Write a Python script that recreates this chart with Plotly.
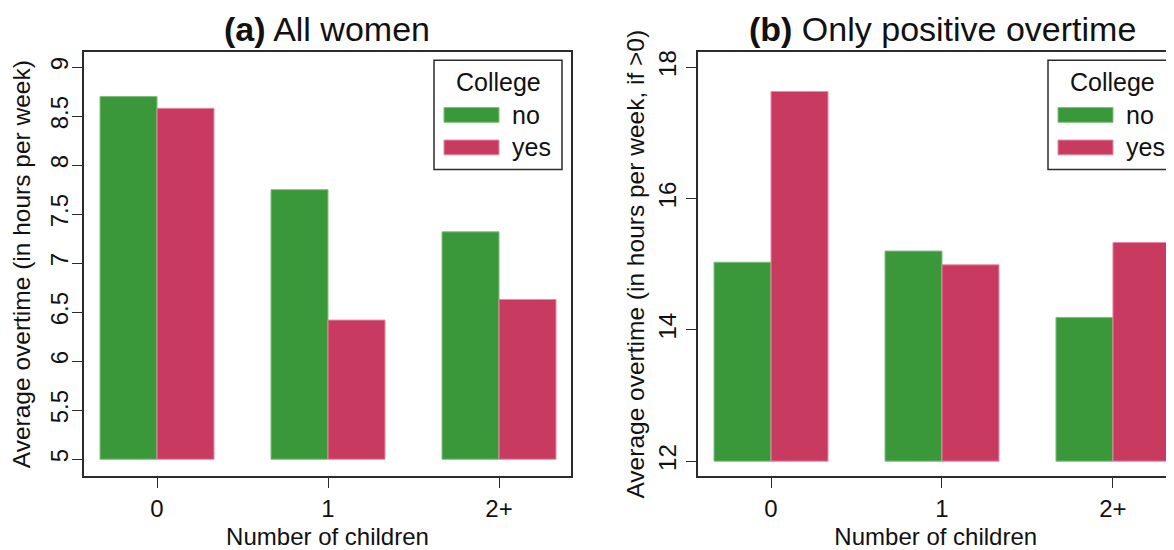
import plotly.graph_objects as go

# the page body has an 8px margin, so the figure is sized to fill the visible window
OFF = 8
W, H = 1174 - OFF, 550 - OFF

# ---- data ----
children = ["0", "1", "2+"]
college_groups = ["no", "yes"]
all_women_no = [8.70, 7.75, 7.32]
all_women_yes = [8.58, 6.42, 6.63]
positive_no = [15.03, 15.20, 14.19]
positive_yes = [17.63, 14.99, 15.33]
left_ticks = [5, 5.5, 6, 6.5, 7, 7.5, 8, 8.5, 9]
left_ticktext = ["5", "5.5", "6", "6.5", "7", "7.5", "8", "8.5", "9"]
right_ticks = [12, 14, 16, 18]
left_base = 5
right_base = 12

GREEN = "#3A983A"
RED = "#C93A61"
GREEN_EDGE = "#7CC07C"
RED_EDGE = "#E58AA2"
FONT = "Liberation Sans, Arial, sans-serif"
LINE = "#2b2b2b"


def px(x):
    return (x - OFF) / W


def py(y):
    return 1 - (y - OFF) / H


fig = go.Figure()

series = [
    (all_women_no, all_women_yes, left_base, "x", "y"),
    (positive_no, positive_yes, right_base, "x2", "y2"),
]
for no_vals, yes_vals, base, xa, ya in series:
    for name, vals, col, edge in [("no", no_vals, GREEN, GREEN_EDGE), ("yes", yes_vals, RED, RED_EDGE)]:
        fig.add_trace(go.Bar(
            x=children, y=[v - base for v in vals], base=base, name=name,
            marker=dict(color=col, line=dict(color=edge, width=1)),
            xaxis=xa, yaxis=ya, showlegend=False,
        ))

axis_common = dict(
    showline=True, linecolor=LINE, linewidth=1.6, ticks="outside", ticklen=10,
    tickwidth=1.4, tickcolor=LINE, showgrid=False, zeroline=False,
    tickfont=dict(family=FONT, size=24, color="#111"),
)

fig.update_layout(
    width=W, height=H,
    margin=dict(l=0, r=0, t=0, b=0),
    paper_bgcolor="white", plot_bgcolor="white",
    barmode="group", bargap=1/3, bargroupgap=0,
    font=dict(family=FONT, size=24, color="#111"),
    xaxis=dict(domain=[px(84), px(571)], range=[-0.427, 2.421], mirror=True, anchor="y",
               title=dict(text="Number of children", font=dict(size=24), standoff=12),
               **axis_common),
    yaxis=dict(domain=[py(481), py(51)], range=[4.829, 9.151], mirror=True, anchor="x",
               tickvals=left_ticks, ticktext=left_ticktext, tickangle=-90, ticklabelstandoff=-5,
               title=dict(text="Average overtime (in hours per week)", font=dict(size=24.5), standoff=14),
               **axis_common),
    xaxis2=dict(domain=[px(697.5), 1.0], range=[-0.43, 2.357], mirror=True, anchor="y2",
                title=dict(text="Number of children", font=dict(size=24), standoff=12),
                **axis_common),
    yaxis2=dict(domain=[py(481), py(51)], range=[11.774, 18.226], mirror=False, anchor="x2",
                tickvals=right_ticks, tickangle=-90,
                title=dict(text="Average overtime (in hours per week, if >0)", font=dict(size=24.5), standoff=3),
                **axis_common),
)

# panel titles
fig.add_annotation(text="<b>(a)</b> All women", x=px(327.5), y=py(27), xref="paper", yref="paper",
                   showarrow=False, font=dict(family=FONT, size=34, color="#111"), xanchor="center", yanchor="middle")
fig.add_annotation(text="<b>(b)</b> Only positive overtime", x=px(942), y=py(27), xref="paper", yref="paper",
                   showarrow=False, font=dict(family=FONT, size=34, color="#111"), xanchor="center", yanchor="middle")

# legends (drawn boxes)
legend_specs = [(434, 562), (1048, 1176)]
for lx0, lx1 in legend_specs:
    fig.add_shape(type="rect", xref="paper", yref="paper", x0=px(lx0), x1=px(lx1), y0=py(170), y1=py(59),
                  line=dict(color=LINE, width=1.5), fillcolor="white", layer="above")
    fig.add_annotation(text="College", x=px((lx0 + lx1) / 2), y=py(81), xref="paper", yref="paper",
                       showarrow=False, font=dict(family=FONT, size=25, color="#111"),
                       xanchor="center", yanchor="middle")
    for i, (lab, col, edge) in enumerate(zip(college_groups, [GREEN, RED], [GREEN_EDGE, RED_EDGE])):
        yc = 114.5 + i * 33
        fig.add_shape(type="rect", xref="paper", yref="paper", x0=px(lx0 + 10), x1=px(lx0 + 65),
                      y0=py(yc + 7.5), y1=py(yc - 7.5), line=dict(color=edge, width=1), fillcolor=col,
                      layer="above")
        fig.add_annotation(text=lab, x=px(lx0 + 76), y=py(yc), xref="paper", yref="paper",
                           showarrow=False, font=dict(family=FONT, size=25, color="#111"),
                           xanchor="left", yanchor="middle")

fig.write_html("out.html")
